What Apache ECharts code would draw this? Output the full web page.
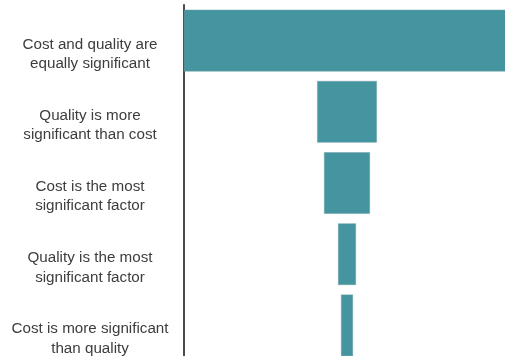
<!DOCTYPE html>
<html>
<head>
<meta charset="utf-8">
<script src="https://cdn.jsdelivr.net/npm/echarts@6/dist/echarts.min.js"></script>
<style>
  html, body { margin: 0; padding: 0; background: #ffffff; }
  #chart { width: 505px; height: 356px; }
</style>
</head>
<body>
<div id="chart"></div>
<script>
// Survey responses: which matters more, cost or quality (share of respondents, %)
const categories = [
  'Cost and quality are\nequally significant',
  'Quality is more\nsignificant than cost',
  'Cost is the most\nsignificant factor',
  'Quality is the most\nsignificant factor',
  'Cost is more significant\nthan quality'
];
const shares = [71, 13, 10, 3.9, 2.6];

// Bars are centred on a common axis: an invisible spacer pushes each bar right
const widest = Math.max(...shares);
const spacers = shares.map(v => (widest - v) / 2);

const chart = echarts.init(document.getElementById('chart'), null, { renderer: 'canvas' });
chart.setOption({
  animation: false,
  // the plot runs slightly past the right and bottom edges, so the widest bar is cut off
  grid: { left: 184, top: 5, width: 326, height: 356, outerBoundsMode: 'none', containLabel: false },
  xAxis: {
    type: 'value',
    min: 0,
    max: widest,
    show: false
  },
  yAxis: {
    type: 'category',
    data: categories,
    inverse: true,
    axisLine: { show: true, lineStyle: { color: '#4a4a4a', width: 2 } },
    axisTick: { show: false },
    axisLabel: {
      align: 'center',
      margin: 94,
      // a spacer line on top nudges each two-line label slightly below its bar's centre
      formatter: name => '{gap| }\n' + name.split('\n').map(l => '{txt|' + l + '}').join('\n'),
      rich: {
        gap: { fontSize: 1, lineHeight: 27 },
        txt: {
          color: '#3d3d3d',
          fontFamily: 'Liberation Sans, Arial, sans-serif',
          fontSize: 15.2,
          lineHeight: 19.5,
          align: 'center'
        }
      }
    }
  },
  series: [
    {
      type: 'bar',
      stack: 'funnel',
      data: spacers,
      itemStyle: { color: 'transparent' },
      barCategoryGap: '13.5%',
      silent: true
    },
    {
      type: 'bar',
      stack: 'funnel',
      data: shares,
      itemStyle: { color: '#4495a0', borderColor: '#6e9fa6', borderWidth: 0.5 },
      barCategoryGap: '13.5%'
    }
  ]
});
</script>
</body>
</html>
